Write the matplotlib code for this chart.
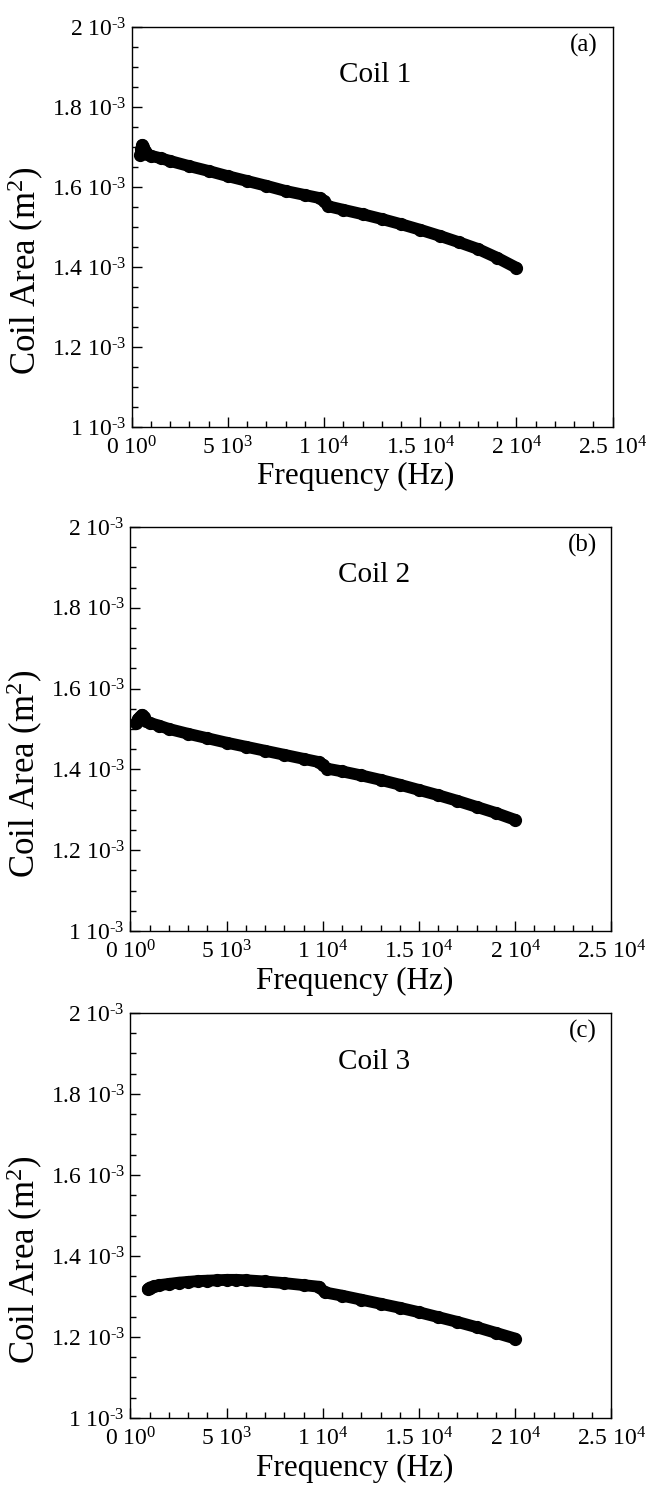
import matplotlib
matplotlib.use("Agg")
import matplotlib.pyplot as plt
from matplotlib.ticker import MultipleLocator, FixedLocator, FixedFormatter

plt.rcParams['font.family'] = ['Liberation Serif', 'DejaVu Serif']
plt.rcParams['mathtext.fontset'] = 'custom'
plt.rcParams['mathtext.rm'] = 'Liberation Serif'
plt.rcParams['mathtext.it'] = 'Liberation Serif:italic'
plt.rcParams['mathtext.default'] = 'regular'

# --- datos ---
freq_1 = [450, 500, 550, 600, 700, 800, 1000, 1500, 2000, 3000, 4000, 5000, 6000, 7000,
          8000, 9000, 9800, 10000, 10200, 11000, 12000, 13000, 14000, 15000, 16000,
          17000, 18000, 19000, 20000]
area_1 = [1.680, 1.695, 1.705, 1.700, 1.690, 1.682, 1.678, 1.672, 1.665, 1.652, 1.640,
          1.627, 1.615, 1.603, 1.590, 1.580, 1.572, 1.565, 1.552, 1.543, 1.532, 1.520,
          1.507, 1.493, 1.478, 1.462, 1.445, 1.423, 1.398]

freq_2 = [300, 400, 500, 600, 700, 800, 1000, 1500, 2000, 3000, 4000, 5000, 6000, 7000,
          8000, 9000, 9800, 10000, 10200, 11000, 12000, 13000, 14000, 15000, 16000,
          17000, 18000, 19000, 20000]
area_2 = [1.515, 1.525, 1.530, 1.535, 1.530, 1.520, 1.515, 1.508, 1.500, 1.488, 1.477,
          1.466, 1.456, 1.446, 1.436, 1.426, 1.418, 1.412, 1.402, 1.395, 1.385, 1.374,
          1.362, 1.349, 1.336, 1.322, 1.307, 1.292, 1.275]

freq_3 = [900, 1000, 1200, 1500, 2000, 2500, 3000, 3500, 4000, 4500, 5000, 5500, 6000,
          7000, 8000, 9000, 9800, 10100, 11000, 12000, 13000, 14000, 15000, 16000,
          17000, 18000, 19000, 20000]
area_3 = [1.318, 1.322, 1.325, 1.328, 1.331, 1.334, 1.336, 1.338, 1.339, 1.340, 1.341,
          1.341, 1.340, 1.337, 1.333, 1.328, 1.324, 1.310, 1.302, 1.292, 1.282, 1.272,
          1.261, 1.249, 1.237, 1.224, 1.210, 1.196]

x_ticks = [0, 5000, 10000, 15000, 20000, 25000]
x_labels = [r'$0\ 10^{0}$', r'$5\ 10^{3}$', r'$1\ 10^{4}$', r'$1.5\ 10^{4}$',
            r'$2\ 10^{4}$', r'$2.5\ 10^{4}$']
y_ticks = [1.0e-3, 1.2e-3, 1.4e-3, 1.6e-3, 1.8e-3, 2.0e-3]
y_labels = [r'$1\ 10^{\text{-3}}$', r'$1.2\ 10^{\text{-3}}$', r'$1.4\ 10^{\text{-3}}$',
            r'$1.6\ 10^{\text{-3}}$', r'$1.8\ 10^{\text{-3}}$', r'$2\ 10^{\text{-3}}$']

paneles = [
    (freq_1, area_1, 'Coil 1', '(a)', [0.203, 0.7136, 0.741, 0.2683]),
    (freq_2, area_2, 'Coil 2', '(b)', [0.201, 0.3756, 0.741, 0.2710]),
    (freq_3, area_3, 'Coil 3', '(c)', [0.201, 0.0490, 0.741, 0.2716]),
]

fig = plt.figure(figsize=(6.49, 14.91), dpi=100)

for freq, area, nombre, letra, pos in paneles:
    ax = fig.add_axes(pos)
    ax.plot(freq, [a * 1e-3 for a in area], 'o-', color='black', ms=8.5,
            lw=8.5, solid_capstyle='round', solid_joinstyle='round')
    ax.set_xlim(0, 25000)
    ax.set_ylim(1e-3, 2e-3)

    ax.xaxis.set_major_locator(FixedLocator(x_ticks))
    ax.xaxis.set_major_formatter(FixedFormatter(x_labels))
    ax.xaxis.set_minor_locator(MultipleLocator(1000))
    ax.yaxis.set_major_locator(FixedLocator(y_ticks))
    ax.yaxis.set_major_formatter(FixedFormatter(y_labels))
    ax.yaxis.set_minor_locator(MultipleLocator(0.05e-3))

    ax.tick_params(which='both', direction='in', top=False, right=False,
                   labelsize=17, width=1)
    ax.tick_params(which='major', length=7)
    ax.tick_params(axis='x', which='major', pad=7)
    ax.tick_params(axis='y', which='major', pad=4)
    ax.tick_params(which='minor', length=4)
    for lbl in ax.get_yticklabels():
        lbl.set_verticalalignment('center_baseline')
    for s in ax.spines.values():
        s.set_linewidth(1)

    ax.set_xlabel('Frequency (Hz)', fontsize=22.5)
    ax.xaxis.set_label_coords(0.466, -0.088)
    ax.set_ylabel(r'Coil Area (m$^{2}$)', fontsize=25)
    ax.yaxis.set_label_coords(-0.178, 0.39)
    ax.text(0.507, 0.88, nombre, transform=ax.transAxes, ha='center', va='center',
            fontsize=21)
    ax.text(0.94, 0.955, letra, transform=ax.transAxes, ha='center', va='center',
            fontsize=18)

fig.savefig('out.png', dpi=100)
